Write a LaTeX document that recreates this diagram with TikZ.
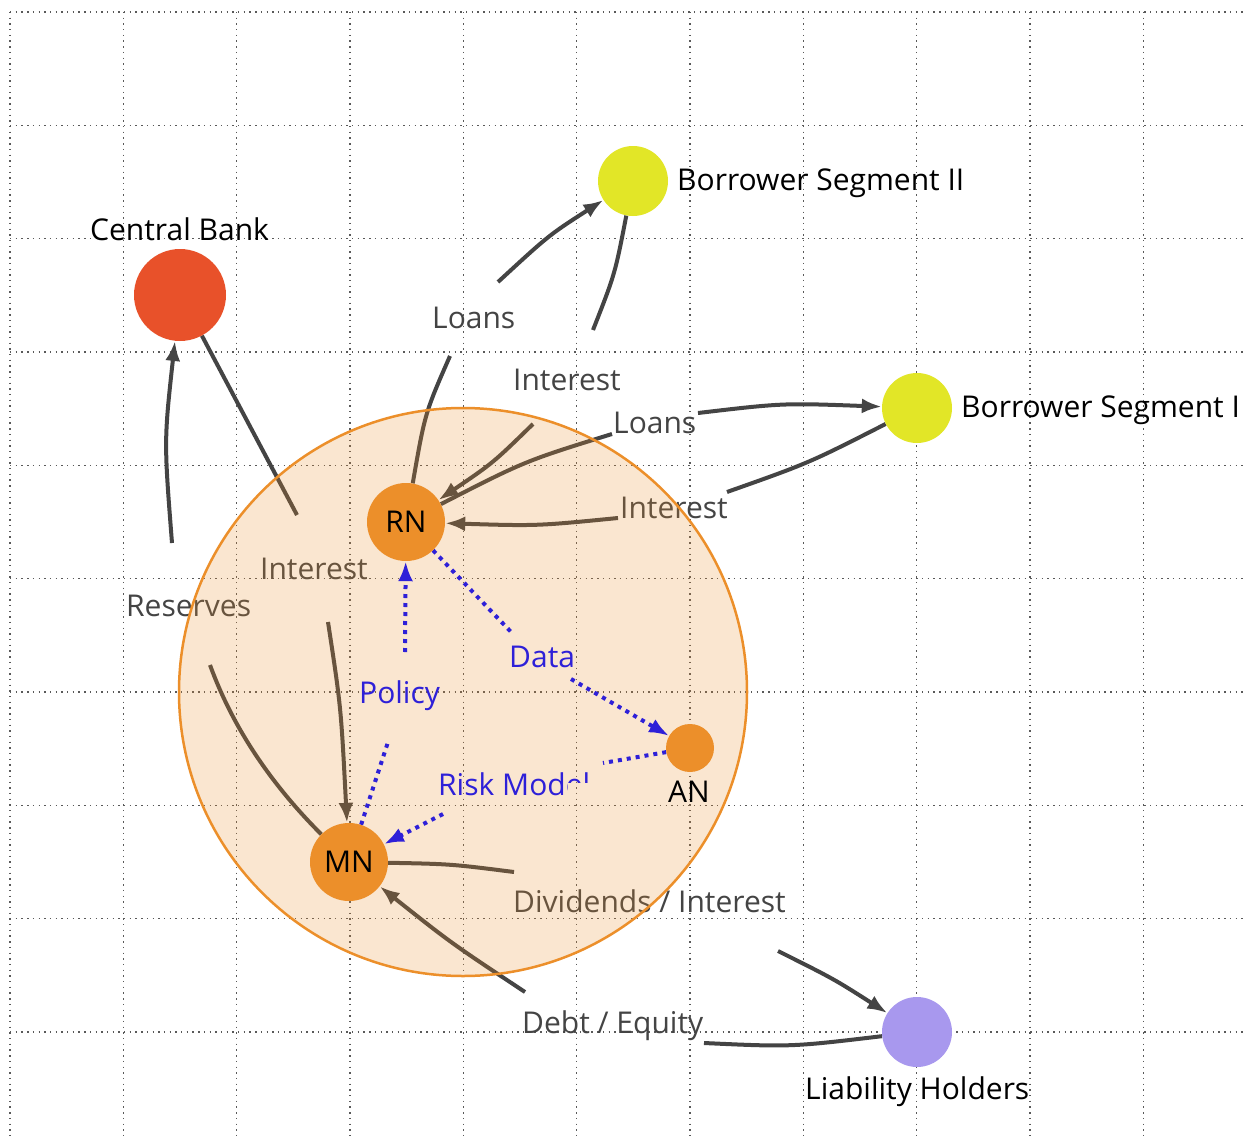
\documentclass[tikz,border=0pt]{standalone}
\usepackage{fontspec}
\setmainfont{Open Sans}
\usetikzlibrary{arrows.meta}
\definecolor{cbred}{HTML}{E8512A}
\definecolor{byel}{HTML}{E2E627}
\definecolor{lhpur}{HTML}{A898EE}
\definecolor{norg}{HTML}{EC8F2A}
\definecolor{lgray}{HTML}{444444}
\definecolor{dblue}{HTML}{2E20D8}
\pgfdeclarelayer{gridlayer}
\pgfdeclarelayer{lines}
\pgfdeclarelayer{tint}
\pgfdeclarelayer{bluelayer}
\pgfsetlayers{gridlayer,lines,tint,bluelayer,main}
\begin{document}
\begin{tikzpicture}[x=1pt,y=-1pt,
  every node/.style={font=\fontsize{30}{36}\selectfont},
  dotnode/.style={circle, inner sep=0pt},
  gridline/.style={draw=black!65, line width=1.4pt, dash pattern=on 1.4pt off 4.3pt},
  conn/.style={draw=lgray, line width=4pt},
  flow/.style={conn, -{Latex[length=20pt,width=15pt]}},
  dconn/.style={draw=dblue, line width=4pt, dash pattern=on 4pt off 5pt},
  dflow/.style={dconn, -{Latex[length=20pt,width=15pt]}},
  lbl/.style={anchor=base west, text=lgray, inner sep=0pt},
  blbl/.style={anchor=base west, text=dblue, inner sep=0pt},
  title/.style={anchor=base west, text=black, inner sep=0pt}
]
\useasboundingbox (0,0) rectangle (1245,1140);

% grid
\begin{pgfonlayer}{gridlayer}
\fill[white] (0,0) rectangle (1245,1140);
\foreach \i in {0,...,10} \draw[gridline] ({10+113.33*\i},12) -- ({10+113.33*\i},1140);
\foreach \j in {0,...,9} \draw[gridline] (10,{12+113.33*\j}) -- (1245,{12+113.33*\j});
\end{pgfonlayer}

% nodes
\node[dotnode, fill=cbred, minimum size=92pt] (cb) at (180,295) {};
\node[dotnode, fill=byel, minimum size=70pt] (bs2) at (633,181) {};
\node[dotnode, fill=byel, minimum size=70pt] (bs1) at (917,408) {};
\node[dotnode, fill=lhpur, minimum size=70pt] (lh) at (917,1032) {};
\node[dotnode, fill=norg, minimum size=78pt] (rn) at (406,522) {RN};
\node[dotnode, fill=norg, minimum size=78pt] (mn) at (349,862) {MN};
\node[dotnode, fill=norg, minimum size=48pt] (an) at (690,748) {};

\node[title] (tcb) at (90,240) {Central Bank};
\node[title] (tbs2) at (677,190) {Borrower Segment II};
\node[title] (tbs1) at (961,417) {Borrower Segment I};
\node[title] (tlh) at (805,1099) {Liability Holders};
\node[title] (tan) at (668,802) {AN};

% tint of the big circle
\begin{pgfonlayer}{tint}
\node[dotnode, minimum size=568pt, fill=norg, fill opacity=0.22, draw=norg, line width=2.5pt] (bank) at (463,692) {};
\end{pgfonlayer}

\begin{pgfonlayer}{lines}
% Reserves
\coordinate (r1) at (210,665); \coordinate (r2) at (172,543);
\draw[conn] (mn) .. controls (271,784) and (233,728) .. (r1);
\node[lbl] (lres) at (126,616) {Reserves};
\draw[flow] (r2) .. controls (164,441) .. (cb);
% Interest from central bank
\coordinate (i1) at (297,515); \coordinate (i2) at (328,622);
\draw[conn] (cb) .. controls (250,425) .. (i1);
\node[lbl] (lint1) at (260,579) {Interest};
\draw[flow] (i2) .. controls (341,707) .. (mn);
% Loans to segment II
\coordinate (l1) at (450,356); \coordinate (l2) at (498,282);
\draw[conn] (rn) .. controls (425,413) .. (l1);
\node[lbl] (lloan2) at (432,328) {Loans};
\draw[flow] (l2) .. controls (549,235) .. (bs2);
% Interest from segment II
\coordinate (t1) at (593,330); \coordinate (t2) at (533,424);
\draw[conn] (bs2) .. controls (615,274) .. (t1);
\node[lbl] (lint2) at (513,390) {Interest};
\draw[flow] (t2) .. controls (493,463) .. (rn);
% Loans to segment I
\coordinate (m1) at (612,434); \coordinate (m2) at (698,413);
\draw[conn] (rn) .. controls (525,461) .. (m1);
\node[lbl] (lloan1) at (613,433) {Loans};
\draw[flow] (m2) .. controls (783,403) .. (bs1);
% Interest from segment I
\coordinate (n1) at (727,492); \coordinate (n2) at (618,518);
\draw[conn] (bs1) .. controls (809,463) .. (n1);
\node[lbl] (lint3) at (620,518) {Interest};
\draw[flow] (n2) .. controls (537,526) .. (rn);
% Dividends / Interest
\coordinate (v1) at (514,872); \coordinate (v2) at (778,951);
\draw[conn] (mn) .. controls (451,864) .. (v1);
\node[lbl] (ldiv) at (513,912) {Dividends / Interest};
\draw[flow] (v2) .. controls (834,979) .. (lh);
% Debt / Equity
\coordinate (e1) at (704,1043); \coordinate (e2) at (525,992);
\draw[conn] (lh) .. controls (791,1047) .. (e1);
\node[lbl] (ldebt) at (522,1033) {Debt / Equity};
\draw[flow] (e2) .. controls (451,943) .. (mn);
\end{pgfonlayer}

\begin{pgfonlayer}{bluelayer}
% Data
\coordinate (d1) at (512,633); \coordinate (d2) at (571,679);
\draw[dconn] (rn) -- (d1);
\node[blbl] (ldata) at (509,667) {Data};
\draw[dflow] (d2) -- (an);
% Policy
\coordinate (p1) at (388,742); \coordinate (p2) at (405,652);
\draw[dconn] (mn) -- (p1);
\node[blbl] (lpol) at (359,703) {Policy};
\draw[dflow] (p2) -- (rn);
% Risk Model
\coordinate (k1) at (603,763); \coordinate (k2) at (443,814);
\draw[dconn] (an) -- (k1);
\begin{scope}
\clip (430,760) -- (620,760) -- (620,782) -- (567,782) -- (567,815) -- (430,815) -- cycle;
\node[blbl] (lrisk) at (438,795) {Risk Model};
\end{scope}
\draw[dflow] (k2) -- (mn);
\end{pgfonlayer}
\end{tikzpicture}
\end{document}
